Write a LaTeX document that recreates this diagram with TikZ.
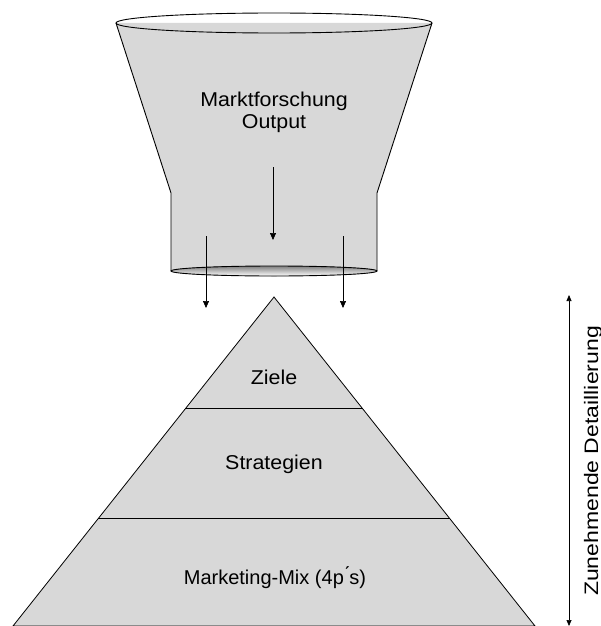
\documentclass[tikz,border=0pt]{standalone}
\usepackage{fontspec}
\setmainfont{Liberation Sans}
\newfontfamily\labelfont[FakeStretch=1.07]{Liberation Sans}
\newfontfamily\plainfont{Liberation Sans}
\newfontfamily\sidefont[FakeStretch=1.18]{Liberation Sans}
\usetikzlibrary{arrows.meta}
\definecolor{shade}{RGB}{216,216,216}
\tikzset{
  body/.style={fill=shade, draw=black, line width=0.8pt},
  label/.style={font=\labelfont\fontsize{20}{23}\selectfont, align=center, inner sep=0pt},
  flow/.style={-{Triangle[length=7pt,width=6pt]}, line width=0.7pt},
  span/.style={{Triangle[length=6pt,width=5pt]}-{Triangle[length=6pt,width=5pt]}, line width=0.7pt}
}
\begin{document}
\begin{tikzpicture}[x=1pt, y=-1pt]
\useasboundingbox (0,0) rectangle (601,626);

% funnel: cone, neck and the two rims
\path[fill=shade] (116,23) -- (171,193) -- (171,271) -- (377,271) -- (377,193) -- (432,23) -- cycle;
\fill[shade] (274,271) ellipse [x radius=103, y radius=5];
\draw[line width=0.9pt] (116,23) -- (171,193) -- (171,271);
\draw[line width=0.9pt] (432,23) -- (377,193) -- (377,271);
\draw[line width=0.9pt] (274,23) ellipse [x radius=158, y radius=10];
\draw[line width=0.9pt] (274,271) ellipse [x radius=103, y radius=5];

\node[label] (research) at (274,112) {Marktforschung\\[-1pt]Output};

% pyramid with its three levels
\draw[body] (274,297) -- (13,626) -- (535,626) -- cycle;
\draw[line width=0.8pt] (186,408) -- (362,408);
\draw[line width=0.8pt] (98,518) -- (450,518);

\node[label] (goals) at (274,377) {Ziele};
\node[label] (strategies) at (274,464) {Strategien};
\node[label, font=\plainfont\fontsize{20}{23}\selectfont] (mix) at (275,578) {Marketing-Mix (4p\'{}s)};

% flow from the funnel into the pyramid
\coordinate (inA) at (273,167);
\coordinate (inB) at (273,240);
\coordinate (leftA) at (206,236);
\coordinate (leftB) at (206,308);
\coordinate (rightA) at (343,236);
\coordinate (rightB) at (343,308);
\draw[flow] (inA) -- (inB);
\draw[flow] (leftA) -- (leftB);
\draw[flow] (rightA) -- (rightB);

% detail scale on the right
\coordinate (scaleTop) at (569,295);
\coordinate (scaleBot) at (569,626);
\draw[span] (scaleTop) -- (scaleBot);
\node[rotate=90, font=\sidefont\fontsize{19.5}{22}\selectfont, inner sep=0pt] (detail) at (593,461) {Zunehmende Detaillierung};
\end{tikzpicture}
\end{document}
